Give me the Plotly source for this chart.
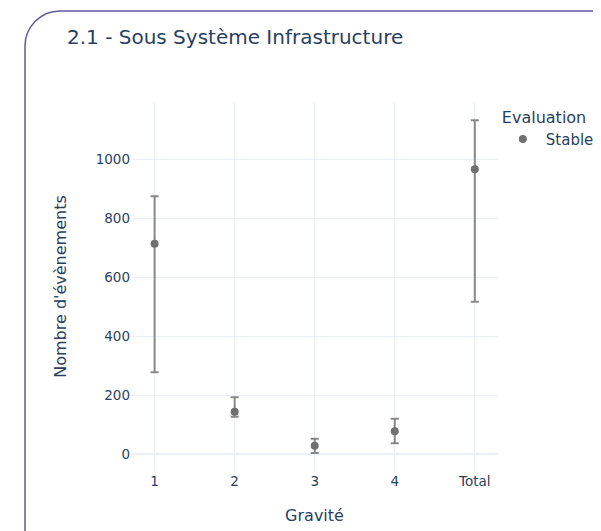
import plotly.graph_objects as go

categories = ["1", "2", "3", "4", "Total"]
values = [714, 144, 29, 78, 967]
upper = [875, 193, 52, 120, 1133]
lower = [278, 127, 4, 37, 517]
series_name = "Stable"
legend_title = "Evaluation"

err_plus = [u - v for u, v in zip(upper, values)]
err_minus = [v - l for v, l in zip(values, lower)]

W, H = 601, 531
ML, MR, MT, MB = 123, 111, 94, 68
PW, PH = W - ML - MR, H - MT - MB

def px_x(x):
    return (x - ML) / PW

def px_y(y):
    return (H - MB - y) / PH

FONT = "DejaVu Sans, Verdana, sans-serif"
TXT = "#2a3f5f"

fig = go.Figure()
fig.add_trace(go.Scatter(
    x=categories, y=values, mode="markers", name=series_name,
    marker=dict(color="#707070", size=8),
    error_y=dict(type="data", symmetric=False, array=err_plus, arrayminus=err_minus,
                 color="#888888", thickness=2, width=4),
    showlegend=True,
))

# rounded card border (top-left corner visible)
L, T, R = 17, 3, 35
k = 0.5523 * R
path = (f"M {px_x(L)},{px_y(H + 20)} L {px_x(L)},{px_y(T + R)} "
        f"C {px_x(L)},{px_y(T + R - k)} {px_x(L + R - k)},{px_y(T)} {px_x(L + R)},{px_y(T)} "
        f"L {px_x(W + 20)},{px_y(T)}")
fig.add_shape(type="path", path=path, xref="paper", yref="paper",
              line=dict(color="#5f5aa2", width=1.5), layer="above")

fig.update_layout(
    template="plotly_white",
    width=W, height=H,
    margin=dict(l=ML, r=MR, t=MT, b=MB, autoexpand=False),
    font=dict(family=FONT, color=TXT, size=14),
    title=dict(text="2.1 - Sous Système Infrastructure", x=59 / W, xanchor="left",
               xref="container", yref="container", y=1 - 29 / H, yanchor="middle",
               font=dict(size=20, family=FONT, color=TXT)),
    legend=dict(title=dict(text=legend_title, font=dict(size=16)), font=dict(size=15),
                itemwidth=36, x=1.005),
    xaxis=dict(title=dict(text="Gravité", font=dict(size=16), standoff=22), type="category",
               categoryorder="array", categoryarray=categories,
               range=[-0.295, 4.29], tickfont=dict(size=13.5)),
    yaxis=dict(title=dict(text="Nombre d'évènements", font=dict(size=16), standoff=25),
               range=[-57, 1195], tickvals=[0, 200, 400, 600, 800, 1000],
               tickfont=dict(size=13.5)),
)

fig.write_html("out.html")
